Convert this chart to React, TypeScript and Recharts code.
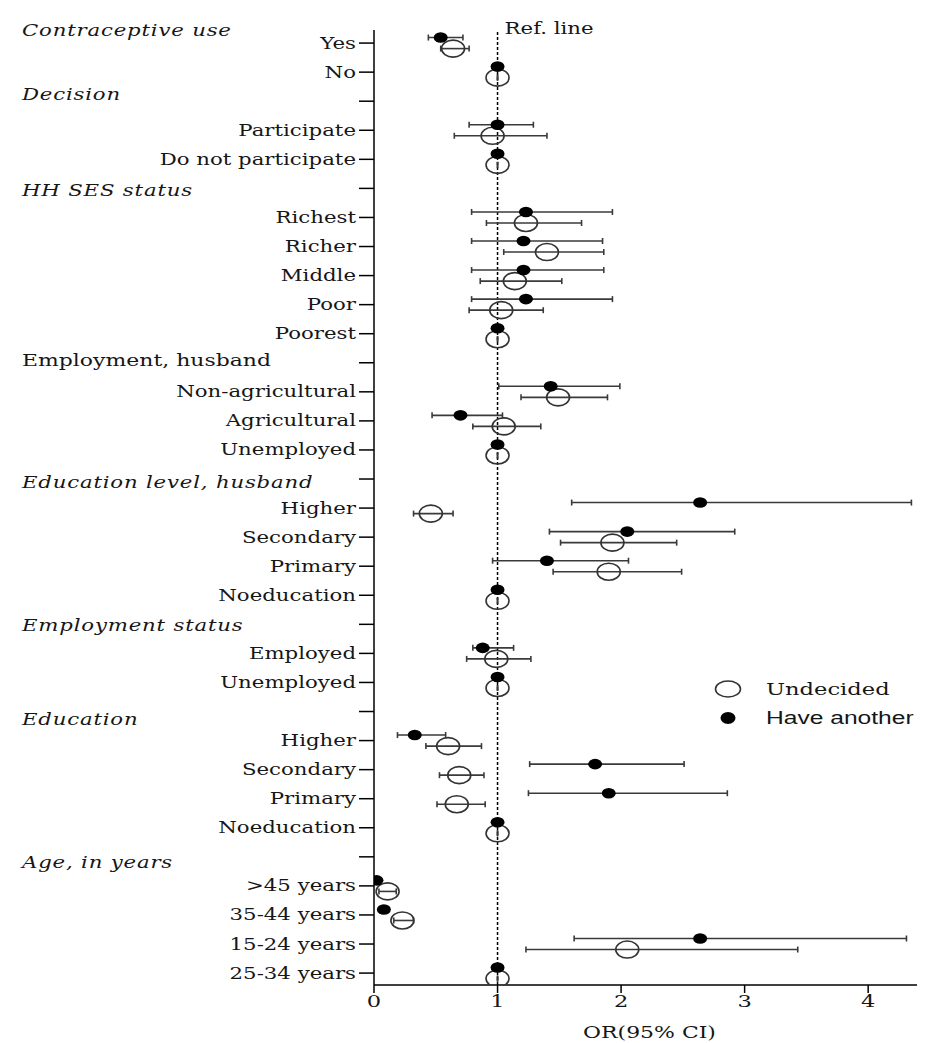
import { ScatterChart, Scatter, XAxis, YAxis, ErrorBar, ReferenceLine, Legend, Label } from 'recharts'

// row labels, top to bottom ('' = spacer row under a group header)
const ROWS = [
  'Yes', 'No', '',
  'Participate', 'Do not participate', '',
  'Richest', 'Richer', 'Middle', 'Poor', 'Poorest', '',
  'Non-agricultural', 'Agricultural', 'Unemployed', '',
  'Higher', 'Secondary', 'Primary', 'Noeducation', '',
  'Employed', 'Unemployed', '',
  'Higher', 'Secondary', 'Primary', 'Noeducation', '',
  '>45 years', '35-44 years', '15-24 years', '25-34 years',
]

// group headers, placed at a row position on the y scale
const HEADERS = [
  { label: 'Contraceptive use', row: -0.45, italic: true },
  { label: 'Decision', row: 1.76, italic: true },
  { label: 'HH SES status', row: 5.06, italic: true },
  { label: 'Employment, husband', row: 10.91, italic: false },
  { label: 'Education level, husband', row: 15.11, italic: true },
  { label: 'Employment status', row: 20.03, italic: true },
  { label: 'Education', row: 23.26, italic: true },
  { label: 'Age, in years', row: 28.18, italic: true },
]

// Have another
const HAVE_OR = [0.54, 1, null, 1.0, 1, null, 1.23, 1.21, 1.21, 1.23, 1, null, 1.43, 0.70, 1, null, 2.64, 2.05, 1.40, 1, null, 0.88, 1, null, 0.33, 1.79, 1.90, 1, null, 0.02, 0.08, 2.64, 1]
const HAVE_LO = [0.44, 1, null, 0.77, 1, null, 0.79, 0.79, 0.79, 0.79, 1, null, 1.01, 0.47, 1, null, 1.60, 1.42, 0.96, 1, null, 0.80, 1, null, 0.19, 1.26, 1.25, 1, null, 0.01, 0.05, 1.62, 1]
const HAVE_HI = [0.72, 1, null, 1.29, 1, null, 1.93, 1.85, 1.86, 1.93, 1, null, 1.99, 1.04, 1, null, 4.35, 2.92, 2.06, 1, null, 1.13, 1, null, 0.58, 2.51, 2.86, 1, null, 0.04, 0.12, 4.31, 1]

// Undecided
const UND_OR = [0.64, 1, null, 0.96, 1, null, 1.23, 1.40, 1.14, 1.03, 1, null, 1.49, 1.05, 1, null, 0.46, 1.93, 1.90, 1, null, 0.99, 1, null, 0.60, 0.69, 0.67, 1, null, 0.11, 0.23, 2.05, 1]
const UND_LO = [0.54, 1, null, 0.65, 1, null, 0.91, 1.05, 0.86, 0.77, 1, null, 1.19, 0.80, 1, null, 0.32, 1.51, 1.45, 1, null, 0.75, 1, null, 0.42, 0.53, 0.51, 1, null, 0.04, 0.16, 1.23, 1]
const UND_HI = [0.77, 1, null, 1.40, 1, null, 1.68, 1.86, 1.52, 1.37, 1, null, 1.89, 1.35, 1, null, 0.64, 2.45, 2.49, 1, null, 1.27, 1, null, 0.87, 0.89, 0.90, 1, null, 0.18, 0.32, 3.43, 1]

const X_TICKS = [0, 1, 2, 3, 4]
const LEGEND_ORDER = ['Undecided', 'Have another']

const SX = 1.33 // the source image is stretched horizontally
const SERIF = '"DejaVu Serif", serif'
const SANS = '"Liberation Sans", Arial, sans-serif'
const INK = '#161616'
const DODGE = 0.19

function buildSeries(or: (number | null)[], lo: (number | null)[], hi: (number | null)[], shift: number) {
  const out: { x: number; y: number; err: [number, number] }[] = []
  or.forEach((v, i) => {
    if (v == null) return
    out.push({ x: v, y: i + shift, err: [v - (lo[i] as number), (hi[i] as number) - v] })
  })
  return out
}

const haveData = buildSeries(HAVE_OR, HAVE_LO, HAVE_HI, -DODGE)
const undData = buildSeries(UND_OR, UND_LO, UND_HI, DODGE)

const yTicks = [...ROWS.map((_, i) => i), ...HEADERS.map(h => h.row)]

function Stretch({ x, y, anchor, italic = false, size = 16, family = SERIF, spacing = 0, children }: any) {
  return (
    <g transform={`translate(${x},${y}) scale(${SX},1)`}>
      <text x={0} y={0} textAnchor={anchor} dominantBaseline="central" fontFamily={family}
        fontSize={size} fontStyle={italic ? 'italic' : 'normal'} letterSpacing={spacing} fill={INK}>
        {children}
      </text>
    </g>
  )
}

function YTick(props: any) {
  const { x, y, payload } = props
  const v = payload.value
  const header = HEADERS.find(h => h.row === v)
  if (header) {
    return (
      <Stretch x={14} y={y} anchor="start" italic={header.italic} size={header.italic ? 16 : 16.5}
        spacing={header.italic ? 0.6 : 0}>
        {header.label}
      </Stretch>
    )
  }
  const label = ROWS[v]
  return (
    <g>
      <line x1={x + 3} x2={x + 18} y1={y} y2={y} stroke="#000" strokeWidth={1.5} />
      {label ? <Stretch x={x} y={y} anchor="end">{label}</Stretch> : null}
    </g>
  )
}

function XTick(props: any) {
  const { x, y, payload } = props
  return <Stretch x={x} y={y + 6} anchor="middle" size={17}>{payload.value}</Stretch>
}

function AxisTitle(props: any) {
  const { x, y, width } = props.viewBox
  return <Stretch x={x + width / 2} y={y + 47} anchor="middle" size={16.5}>OR(95% CI)</Stretch>
}

function RefLabel(props: any) {
  const { x, y } = props.viewBox
  return <Stretch x={x + 7} y={y - 2} anchor="start" size={16}>Ref. line</Stretch>
}

const HollowDot = (p: any) => (
  <ellipse cx={p.cx} cy={p.cy} rx={11.5} ry={8.5} fill="none" stroke="#333" strokeWidth={1.6} />
)
const SolidDot = (p: any) => <ellipse cx={p.cx} cy={p.cy} rx={7} ry={5.3} fill="#000" />

function LegendBox(props: any) {
  const items = [...(props.payload || [])].sort(
    (a: any, b: any) => LEGEND_ORDER.indexOf(a.value) - LEGEND_ORDER.indexOf(b.value))
  return (
    <svg width={225} height={62}>
      {items.map((it: any, i: number) => {
        const cy = 19 + i * 29
        const hollow = it.value === 'Undecided'
        return (
          <g key={it.value}>
            {hollow
              ? <ellipse cx={28} cy={cy} rx={12.5} ry={8} fill="none" stroke="#333" strokeWidth={1.6} />
              : <ellipse cx={28} cy={cy} rx={7.5} ry={6} fill="#000" />}
            <Stretch x={66} y={cy} anchor="start" size={hollow ? 17 : 18.5} family={hollow ? SERIF : SANS}>
              {it.value}
            </Stretch>
          </g>
        )
      })}
    </svg>
  )
}

export default function App() {
  return (
    <ScatterChart width={917} height={1035} margin={{ top: 22, right: 0, bottom: 0, left: 0 }}>
      <XAxis type="number" dataKey="x" domain={[0, 4.46]} ticks={X_TICKS} allowDataOverflow
        tick={<XTick />} tickSize={8} tickMargin={2} height={58}
        axisLine={{ stroke: '#000', strokeWidth: 1.5 }} tickLine={{ stroke: '#000', strokeWidth: 1.5 }}>
        <Label content={<AxisTitle />} />
      </XAxis>
      <YAxis type="number" dataKey="y" domain={[-0.45, 32.41]} reversed ticks={yTicks} interval={0}
        allowDataOverflow width={366} tick={<YTick />} tickLine={false} tickSize={15} tickMargin={3}
        axisLine={{ stroke: '#000', strokeWidth: 1.5 }} />
      <ReferenceLine x={1} stroke="#000" strokeWidth={1.5} strokeDasharray="3 2" label={<RefLabel />} />
      <Legend content={<LegendBox />} layout="vertical" align="center" verticalAlign="middle"
        wrapperStyle={{ position: 'absolute', left: 692, top: 662, width: 225 }} />
      <Scatter name="Undecided" data={undData} shape={HollowDot} isAnimationActive={false}>
        <ErrorBar dataKey="err" direction="x" width={3} stroke="#3a3a3a" strokeWidth={1.6} isAnimationActive={false} />
      </Scatter>
      <Scatter name="Have another" data={haveData} shape={SolidDot} isAnimationActive={false}>
        <ErrorBar dataKey="err" direction="x" width={3} stroke="#3a3a3a" strokeWidth={1.6} isAnimationActive={false} />
      </Scatter>
    </ScatterChart>
  )
}
